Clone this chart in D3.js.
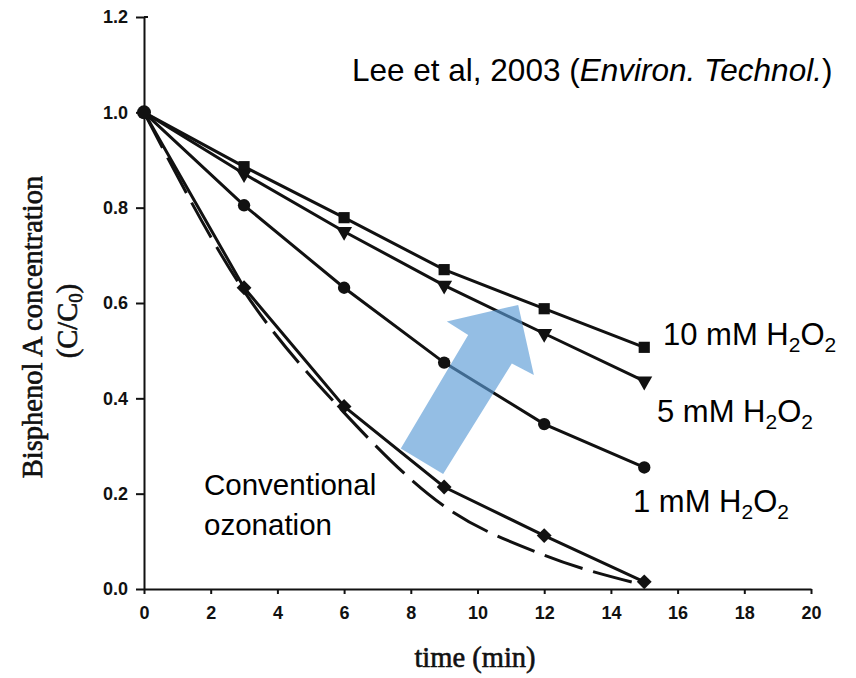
<!DOCTYPE html>
<html>
<head>
<meta charset="utf-8">
<script src="https://cdn.jsdelivr.net/npm/d3@7"></script>
<style>
  body { margin: 0; background: #fff; }
  svg { display: block; }
</style>
</head>
<body>
<script>
// time points (min) and C/C0 readings for each run
var times = [0, 3, 6, 9, 12, 15];
var h2o2_10 = [1.0, 0.886, 0.779, 0.670, 0.588, 0.507];
var h2o2_5 = [1.0, 0.871, 0.750, 0.637, 0.536, 0.436];
var h2o2_1 = [1.0, 0.805, 0.632, 0.475, 0.346, 0.255];
var conventional = [1.0, 0.632, 0.383, 0.214, 0.112, 0.015];
// dashed (model) curve
var model = [1.0, 0.625, 0.370, 0.174, 0.071, 0.008];

var xTicks = [0, 2, 4, 6, 8, 10, 12, 14, 16, 18, 20];
var yTicks = [0.0, 0.2, 0.4, 0.6, 0.8, 1.0, 1.2];

// blue arrow outline, in data units (time, C/C0)
var arrowPts = [[7.70, 0.295], [9.72, 0.533], [9.08, 0.561], [11.22, 0.596],
                [11.69, 0.449], [11.03, 0.473], [8.97, 0.241]];

var svg = d3.select('body').append('svg')
    .attr('width', 856)
    .attr('height', 678);

var x = d3.scaleLinear().domain([0, 20]).range([144, 811]);
var y = d3.scaleLinear().domain([0, 1.2]).range([589, 17]);

// axes
var xAxis = svg.append('g')
    .attr('transform', 'translate(0,' + y(0) + ')')
    .call(d3.axisBottom(x).tickValues(xTicks).tickSize(5).tickSizeOuter(0).tickPadding(12));

var yAxis = svg.append('g')
    .attr('transform', 'translate(' + x(0) + ',0)')
    .call(d3.axisLeft(y).tickValues(yTicks).tickFormat(d3.format('.1f')).tickSize(8).tickSizeOuter(0).tickPadding(8));

[xAxis, yAxis].forEach(function(a) {
    a.select('.domain').attr('stroke', '#111').attr('stroke-width', 2);
    a.selectAll('.tick line').attr('stroke', '#111').attr('stroke-width', 2);
    a.selectAll('.tick text')
        .attr('font-family', 'Liberation Sans, Arial, sans-serif')
        .attr('font-weight', 'bold')
        .attr('font-size', 18)
        .attr('fill', '#111');
});

// small hook at the top of the y axis
svg.append('line')
    .attr('x1', x(0)).attr('x2', x(0) + 4)
    .attr('y1', y(1.2)).attr('y2', y(1.2))
    .attr('stroke', '#111').attr('stroke-width', 2);

// axis titles
svg.append('text')
    .attr('x', 475)
    .attr('y', 667)
    .attr('text-anchor', 'middle')
    .attr('font-family', 'Liberation Serif, Times New Roman, serif')
    .attr('font-size', 28.5)
    .attr('stroke', '#111').attr('stroke-width', 0.6)
    .attr('fill', '#111')
    .text('time (min)');

var yTitle = svg.append('g')
    .attr('transform', 'translate(0,327) rotate(-90)');
yTitle.append('text')
    .attr('x', 0).attr('y', 42)
    .attr('text-anchor', 'middle')
    .attr('font-family', 'Liberation Serif, Times New Roman, serif')
    .attr('font-size', 28.5)
    .attr('stroke', '#111').attr('stroke-width', 0.6)
    .attr('fill', '#111')
    .text('Bisphenol A concentration');
var yt2 = yTitle.append('text')
    .attr('x', 6).attr('y', 77)
    .attr('text-anchor', 'middle')
    .attr('font-family', 'Liberation Serif, Times New Roman, serif')
    .attr('font-size', 28.5)
    .attr('stroke', '#111').attr('stroke-width', 0.6)
    .attr('fill', '#111');
yt2.append('tspan').text('(C/C');
yt2.append('tspan').attr('font-size', 19).attr('dy', 5).text('0');
yt2.append('tspan').attr('dy', -5).text(')');

// lines
var line = d3.line()
    .x(function(d, i) { return x(times[i]); })
    .y(function(d) { return y(d); });

svg.append('path')
    .datum(model)
    .attr('d', line.curve(d3.curveMonotoneX))
    .attr('fill', 'none')
    .attr('stroke', '#111')
    .attr('stroke-width', 3)
    .attr('stroke-dasharray', '40,11');

line.curve(d3.curveLinear);

var series = [
    {vals: h2o2_10, shape: d3.symbolSquare, size: 125, rot: 0},
    {vals: h2o2_5, shape: d3.symbolTriangle, size: 110, rot: 180},
    {vals: h2o2_1, shape: d3.symbolCircle, size: 120, rot: 0},
    {vals: conventional, shape: d3.symbolSquare, size: 110, rot: 45}
];

series.forEach(function(s) {
    svg.append('path')
        .datum(s.vals)
        .attr('d', line)
        .attr('fill', 'none')
        .attr('stroke', '#111')
        .attr('stroke-width', 3);

    svg.selectAll(null)
        .data(s.vals.slice(1))
        .enter().append('path')
        .attr('d', d3.symbol().type(s.shape).size(s.size))
        .attr('transform', function(d, i) {
            return 'translate(' + x(times[i + 1]) + ',' + y(d) + ') rotate(' + s.rot + ')';
        })
        .attr('fill', '#111');
});

// shared start point
svg.append('circle')
    .attr('cx', x(times[0]))
    .attr('cy', y(h2o2_1[0]))
    .attr('r', 7)
    .attr('fill', '#111');

// blue arrow
svg.append('polygon')
    .attr('points', arrowPts.map(function(p) { return x(p[0]) + ',' + y(p[1]); }).join(' '))
    .attr('fill', '#5b9bd5')
    .attr('fill-opacity', 0.65);

// annotations
var sans = 'Liberation Sans, Arial, sans-serif';

svg.append('text')
    .attr('x', 352).attr('y', 81)
    .attr('font-family', sans).attr('font-size', 31.5)
    .html('Lee et al, 2003 (<tspan font-style="italic">Environ. Technol.</tspan>)');

function h2o2Label(txt, lx, ly) {
    var t = svg.append('text')
        .attr('x', lx).attr('y', ly)
        .attr('font-family', sans).attr('font-size', 31);
    t.append('tspan').text(txt + ' H');
    t.append('tspan').attr('font-size', 21).attr('dy', 7).text('2');
    t.append('tspan').attr('dy', -7).text('O');
    t.append('tspan').attr('font-size', 21).attr('dy', 7).text('2');
}
h2o2Label('10 mM', 663, 345);
h2o2Label('5 mM', 657, 422);
h2o2Label('1 mM', 633, 512);

svg.append('text')
    .attr('x', 204).attr('y', 495)
    .attr('font-family', sans).attr('font-size', 29.5)
    .text('Conventional');
svg.append('text')
    .attr('x', 204).attr('y', 535)
    .attr('font-family', sans).attr('font-size', 29.5)
    .text('ozonation');
</script>
</body>
</html>
